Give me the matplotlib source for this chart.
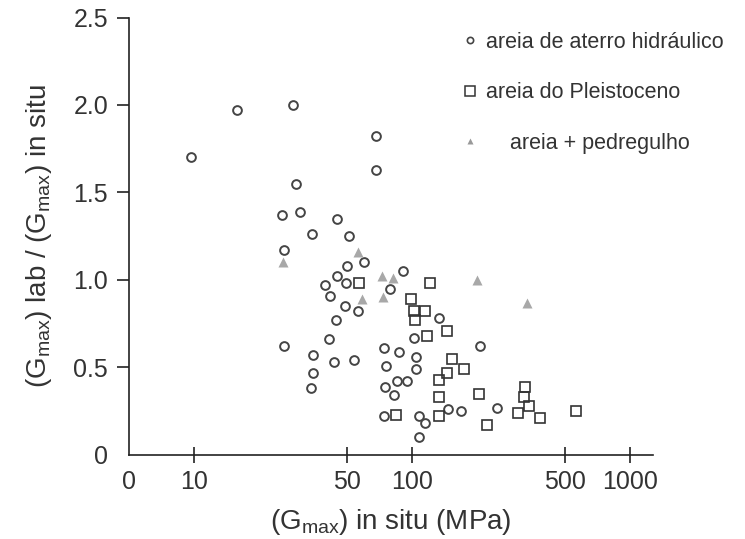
import matplotlib
matplotlib.use("Agg")
import matplotlib.pyplot as plt
from matplotlib.lines import Line2D

plt.rcParams['font.family'] = ['Liberation Sans', 'DejaVu Sans']
plt.rcParams['mathtext.fontset'] = 'custom'
plt.rcParams['mathtext.rm'] = 'Liberation Sans'
plt.rcParams['mathtext.it'] = 'Liberation Sans'

# areia de aterro hidráulico (circles)
aterro_x = [9.6, 15.7, 28.2, 29.4, 68.4, 68.4, 25.3, 30.6, 45.3, 34.8, 51.4, 25.9,
            60.2, 50.3, 45.3, 90.9, 39.9, 42.1, 49.8, 79.3, 49.3, 56.5, 44.8, 132,
            102, 205, 87.2, 104, 104, 25.9, 41.6, 35.2, 43.9, 54.2, 74.4, 35.2,
            76.0, 34.4, 75.2, 85.3, 94.9, 82.7, 74.4, 107, 114, 146, 168, 245, 107]
aterro_y = [1.70, 1.97, 2.00, 1.55, 1.82, 1.63, 1.37, 1.39, 1.35, 1.26, 1.25, 1.17,
            1.10, 1.08, 1.02, 1.05, 0.97, 0.91, 0.98, 0.95, 0.85, 0.82, 0.77, 0.78,
            0.67, 0.62, 0.59, 0.56, 0.49, 0.62, 0.66, 0.57, 0.53, 0.54, 0.61, 0.47,
            0.51, 0.38, 0.39, 0.42, 0.42, 0.34, 0.22, 0.22, 0.18, 0.26, 0.25, 0.27, 0.10]

# areia do Pleistoceno (squares)
pleist_x = [57.1, 121, 98.9, 102, 114, 103, 145, 117, 153, 173, 145, 133, 133, 203,
            84.4, 133, 221, 330, 326, 344, 306, 387, 565]
pleist_y = [0.98, 0.98, 0.89, 0.82, 0.82, 0.77, 0.71, 0.68, 0.55, 0.49, 0.47, 0.43,
            0.33, 0.35, 0.23, 0.22, 0.17, 0.39, 0.33, 0.28, 0.24, 0.21, 0.25]

# areia + pedregulho (triangles)
pedreg_x = [25.6, 56.5, 72.8, 81.8, 73.6, 59.0, 199, 337]
pedreg_y = [1.10, 1.16, 1.02, 1.01, 0.90, 0.89, 1.00, 0.87]

xticks = [5, 10, 50, 100, 500, 1000]
xticklabels = ['0', '10', '50', '100', '500', '1000']
yticks = [0, 0.5, 1.0, 1.5, 2.0, 2.5]
yticklabels = ['0', '0.5', '1.0', '1.5', '2.0', '2.5']

labels = ['areia de aterro hidráulico', 'areia do Pleistoceno', '    areia + pedregulho']

txt = '#333333'
fig = plt.figure(figsize=(7.45, 5.39), dpi=100)
ax = fig.add_axes([0.173, 0.156, 0.7035, 0.8115])

ax.plot(aterro_x, aterro_y, 'o', ms=6.3, mfc='none', mec='#444444', mew=1.4, ls='none')
ax.plot(pleist_x, pleist_y, 's', ms=7, mfc='none', mec='#333333', mew=1.2, ls='none')
ax.plot(pedreg_x, pedreg_y, '^', ms=7.5, mfc='#a8a8a8', mec='none', ls='none')

ax.set_xscale('log')
ax.set_xlim(5.03, 1274)
ax.set_ylim(0, 2.5)
ax.set_xticks(xticks)
ax.set_xticklabels(xticklabels)
ax.xaxis.set_minor_locator(matplotlib.ticker.NullLocator())
ax.set_yticks(yticks)
ax.set_yticklabels(yticklabels)

for s in ['top', 'right']:
    ax.spines[s].set_visible(False)
for s in ['left', 'bottom']:
    ax.spines[s].set_linewidth(1.2)
    ax.spines[s].set_color('#222222')

ax.tick_params(axis='x', direction='inout', length=12, width=1.2, color='#222222',
               labelsize=18, labelcolor=txt, pad=5)
ax.tick_params(axis='y', direction='out', length=9, width=1.2, color='#222222',
               labelsize=18, labelcolor=txt, pad=6)
ax.xaxis.get_major_ticks()[0].tick1line.set_visible(False)
ax.yaxis.get_major_ticks()[0].tick1line.set_visible(False)

ax.set_xlabel(r'(G$_{\mathrm{max}}$) in situ (MPa)', fontsize=20, color=txt, labelpad=9)
ax.set_ylabel(r'(G$_{\mathrm{max}}$) lab / (G$_{\mathrm{max}}$) in situ', fontsize=20,
              color=txt, labelpad=14)

handles = [
    Line2D([], [], marker='o', ms=4.5, mfc='none', mec='#444444', mew=1.2, ls='none'),
    Line2D([], [], marker='s', ms=6.5, mfc='none', mec='#333333', mew=1.1, ls='none'),
    Line2D([], [], marker='^', ms=5, mfc='#999999', mec='none', ls='none'),
]
leg = ax.legend(handles, labels, loc='upper left', bbox_to_anchor=(0.63, 0.967),
                frameon=False, fontsize=15.5, labelspacing=1.37, handlelength=1.0,
                handletextpad=0.25, borderpad=0, borderaxespad=0)
for t in leg.get_texts():
    t.set_color(txt)

fig.savefig('out.png', dpi=100)
